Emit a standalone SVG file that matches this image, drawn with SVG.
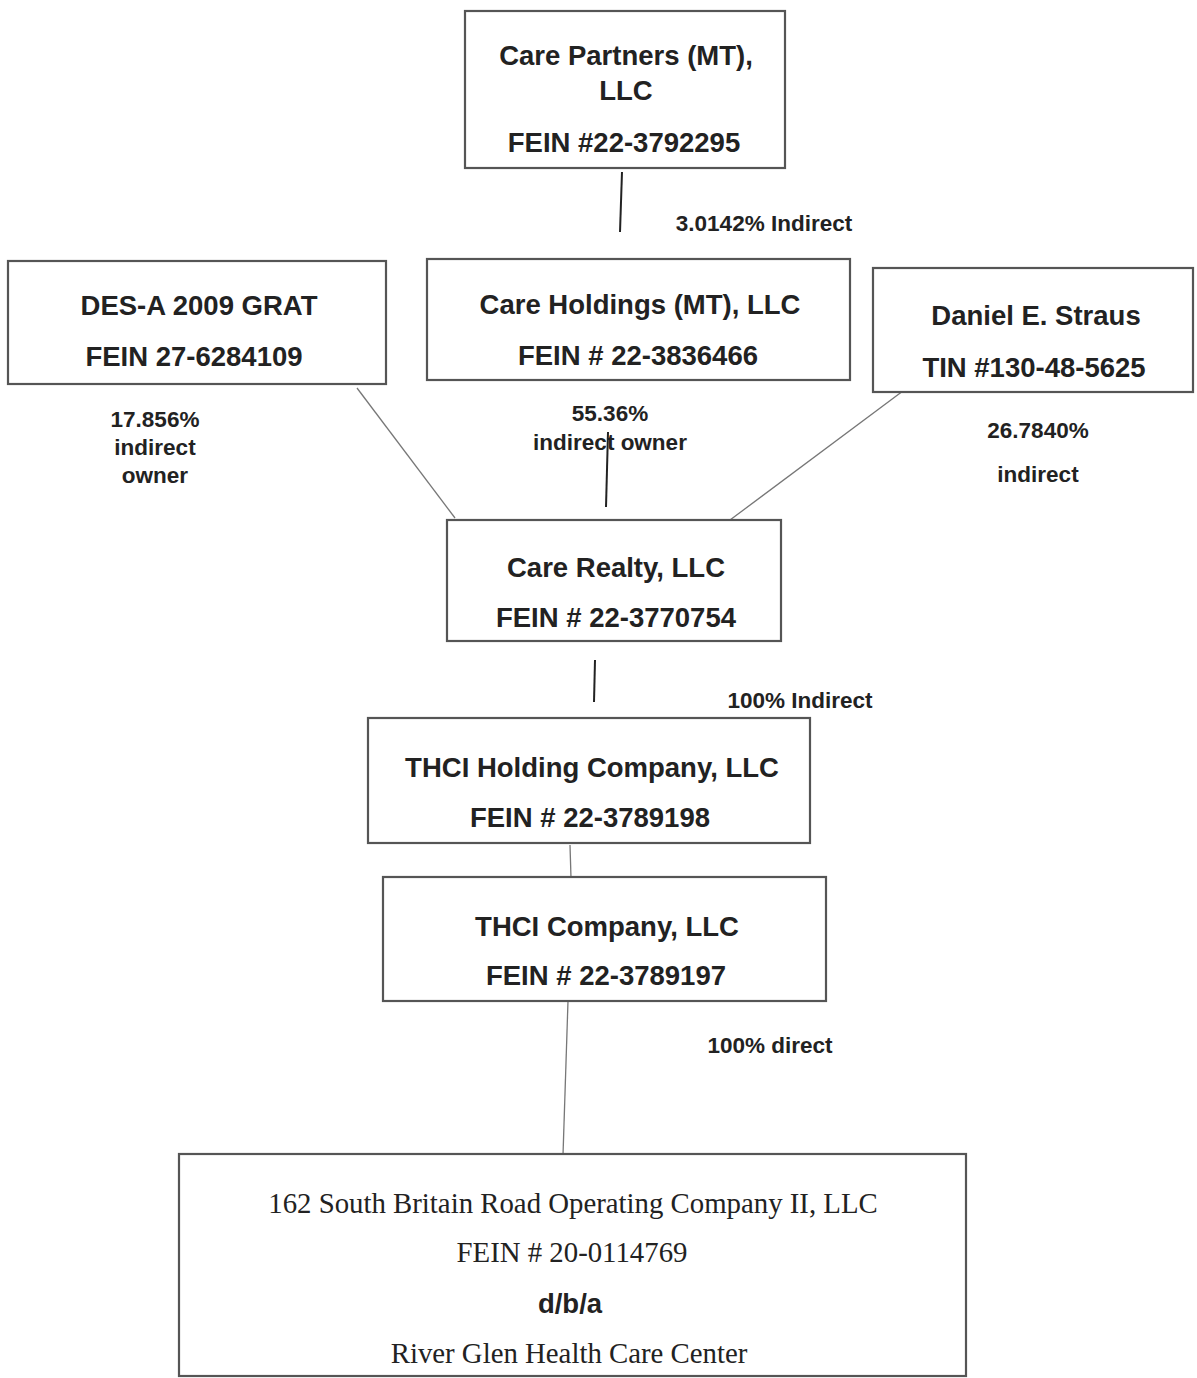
<svg xmlns="http://www.w3.org/2000/svg" width="1197" height="1378" viewBox="0 0 1197 1378">
<style>
.box{fill:#fff;stroke:#555;stroke-width:2.2}
.t{font-family:"Liberation Sans",Arial,sans-serif;font-weight:bold;font-size:27.5px;fill:#222;text-anchor:middle}
.l{font-family:"Liberation Sans",Arial,sans-serif;font-weight:bold;font-size:22.5px;fill:#222;text-anchor:middle}
.s{font-family:"Liberation Serif","Times New Roman",serif;font-size:28.8px;fill:#222;text-anchor:middle}
.c{stroke:#222;stroke-width:2;fill:none}
.d{stroke:#777;stroke-width:1.3;fill:none}
</style>
<rect width="1197" height="1378" fill="#fff"/>
<g id="connectors">
<line class="c" x1="622" y1="172" x2="620" y2="232"/>
<line class="d" x1="357" y1="388" x2="455" y2="518"/>
<line class="c" x1="608" y1="432" x2="606" y2="507"/>
<line class="d" x1="915" y1="382" x2="730" y2="520"/>
<line class="c" x1="595" y1="660" x2="594" y2="702"/>
<line class="d" x1="570" y1="845" x2="571" y2="878"/>
<line class="d" x1="568" y1="1001" x2="563" y2="1155"/>
<text class="l" x="764" y="231">3.0142% Indirect</text>
<text class="l" x="155" y="427">17.856%</text>
<text class="l" x="155" y="455">indirect</text>
<text class="l" x="155" y="483">owner</text>
<text class="l" x="610" y="421">55.36%</text>
<text class="l" x="610" y="450">indirect owner</text>
<text class="l" x="1038" y="438">26.7840%</text>
<text class="l" x="1038" y="482">indirect</text>
<text class="l" x="800" y="708">100% Indirect</text>
<text class="l" x="770" y="1053">100% direct</text>
</g>
<g id="care-partners">
<rect class="box" x="465" y="11" width="320" height="157"/>
<text class="t" x="626" y="65">Care Partners (MT),</text>
<text class="t" x="626" y="100">LLC</text>
<text class="t" x="624" y="152">FEIN #22-3792295</text>
</g>
<g id="des-a">
<rect class="box" x="8" y="261" width="378" height="123"/>
<text class="t" x="199" y="315">DES-A 2009 GRAT</text>
<text class="t" x="194" y="366">FEIN 27-6284109</text>
</g>
<g id="care-holdings">
<rect class="box" x="427" y="259" width="423" height="121"/>
<text class="t" x="640" y="314">Care Holdings (MT), LLC</text>
<text class="t" x="638" y="365">FEIN # 22-3836466</text>
</g>
<g id="daniel">
<rect class="box" x="873" y="268" width="320" height="124"/>
<text class="t" x="1036" y="325">Daniel E. Straus</text>
<text class="t" x="1034" y="377">TIN #130-48-5625</text>
</g>
<g id="care-realty">
<rect class="box" x="447" y="520" width="334" height="121"/>
<text class="t" x="616" y="577">Care Realty, LLC</text>
<text class="t" x="616" y="627">FEIN # 22-3770754</text>
</g>
<g id="thci-holding">
<rect class="box" x="368" y="718" width="442" height="125"/>
<text class="t" x="592" y="777">THCI Holding Company, LLC</text>
<text class="t" x="590" y="827">FEIN # 22-3789198</text>
</g>
<g id="thci-company">
<rect class="box" x="383" y="877" width="443" height="124"/>
<text class="t" x="607" y="936">THCI Company, LLC</text>
<text class="t" x="606" y="985">FEIN # 22-3789197</text>
</g>
<g id="river-glen">
<rect class="box" x="179" y="1154" width="787" height="222"/>
<text class="s" x="573" y="1213">162 South Britain Road Operating Company II, LLC</text>
<text class="s" x="572" y="1262">FEIN # 20-0114769</text>
<text class="t" x="570" y="1313">d/b/a</text>
<text class="s" x="569" y="1363">River Glen Health Care Center</text>
</g>
</svg>
